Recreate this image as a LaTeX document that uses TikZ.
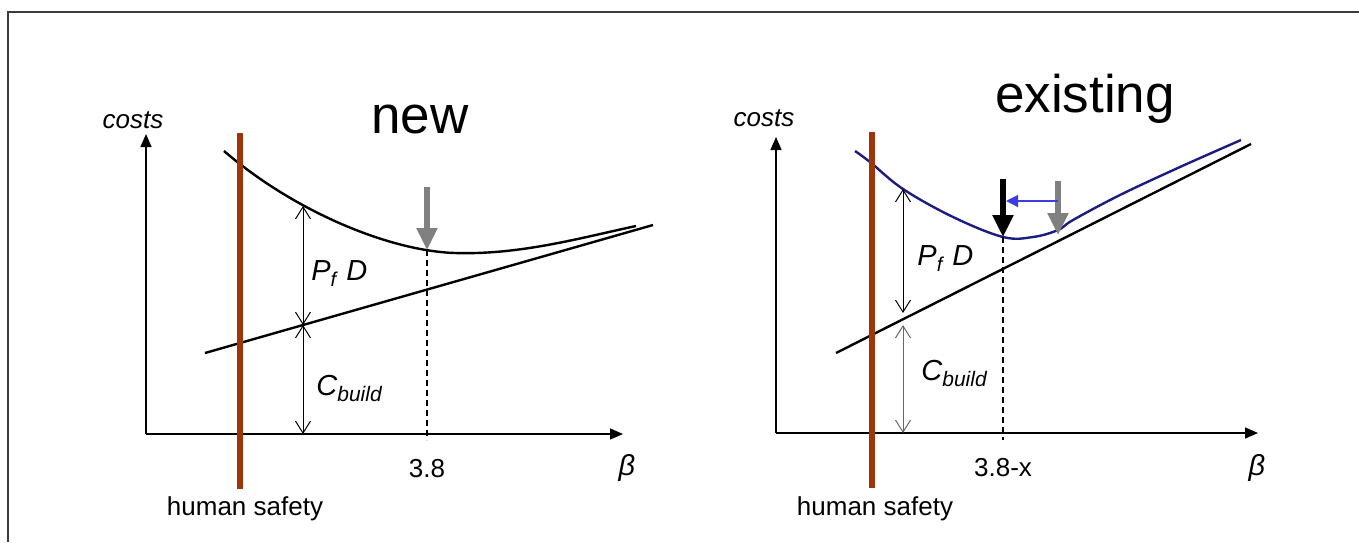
\documentclass[tikz,border=0pt]{standalone}
\usepackage{fontspec}
\setmainfont{Liberation Sans}
\usetikzlibrary{arrows.meta}
\definecolor{safetycol}{RGB}{158,54,8}
\definecolor{navy}{RGB}{28,28,128}
\definecolor{shiftblue}{RGB}{60,60,225}
\definecolor{optgray}{RGB}{128,128,128}
\definecolor{framecol}{RGB}{60,60,60}
\begin{document}
\begin{tikzpicture}[x=0.5pt,y=-0.5pt,
  axis/.style={line width=0.7pt, -{Triangle[length=6.5pt,width=5.5pt]}},
  curve/.style={line width=1.2pt},
  safety/.style={line width=2.6pt, draw=safetycol},
  dimarrow/.style={line width=0.5pt, {Straight Barb[length=6pt,width=7.5pt]}-{Straight Barb[length=6pt,width=7.5pt]}},
  bigarrow/.style={line width=2.6pt, -{Triangle[length=11pt,width=10pt]}},
  dashv/.style={line width=0.6pt, dash pattern=on 3pt off 2pt},
  lbl/.style={inner sep=0pt, font=\fontsize{13pt}{15pt}\selectfont},
  ilbl/.style={inner sep=0pt, font=\fontsize{13pt}{15pt}\selectfont\itshape},
  title/.style={inner sep=0pt, font=\fontsize{26.5pt}{30pt}\selectfont},
  math/.style={inner sep=0pt, font=\fontsize{14.5pt}{17pt}\selectfont\itshape},
]
\useasboundingbox (0,0) rectangle (1359,542);
% frame
\draw[framecol, line width=1pt] (8,542) -- (8,12) -- (1359,12);

% ================= LEFT PANEL =================
\coordinate (LO) at (146,434);
\coordinate (LY) at (146,134);
\coordinate (LX) at (623,434);
\draw[axis] (LO) -- (LY);
\draw[axis] (LO) -- (LX);
\node[ilbl, anchor=base] (lcosts) at (133,128) {costs};
\node[title, anchor=base] (lnew) at (420,133) {new};

% build cost line
\coordinate (LL1) at (205,353);
\coordinate (LL2) at (653,225);
\draw[curve] (LL1) -- (LL2);
% total cost curve
\coordinate (LC0) at (224,151);
\coordinate (LCm) at (455,253);
\coordinate (LC1) at (636,226);
\draw[curve] (LC0) .. controls (295,212) and (390,251) .. (LCm)
                   .. controls (520,255) and (580,238) .. (LC1);
% safety bar
\coordinate (LS1) at (240,133);
\coordinate (LS2) at (240,489);
\draw[safety] (LS1) -- (LS2);
% dimension arrows
\coordinate (LDtop) at (303,206);
\coordinate (LDmid) at (303,325);
\coordinate (LDbot) at (303,434);
\draw[dimarrow] (LDtop) -- (LDmid);
\draw[dimarrow] (LDmid) -- (LDbot);
\node[math, anchor=base west] (lpf) at (311,280) {P\raisebox{-3pt}{\fontsize{10pt}{10pt}\selectfont f}\hspace{5pt}D};
\node[math, anchor=base west] (lcb) at (316,395) {C\raisebox{-3.4pt}{\fontsize{10.5pt}{11pt}\selectfont build}};
% optimum
\coordinate (LM) at (427,250);
\coordinate (LMd) at (427,440);
\coordinate (LMa) at (427,187);
\draw[dashv] (LM) -- (LMd);
\draw[bigarrow, optgray] (LMa) -- (LM);
\node[lbl, anchor=base] (l38) at (427,477) {3.8};
\node[math, anchor=base] (lbeta) at (627,475) {β};
\node[lbl, anchor=base] (lhs) at (245,515) {human safety};

% ================= RIGHT PANEL =================
\coordinate (RO) at (776,433);
\coordinate (RY) at (776,137);
\coordinate (RX) at (1258,433);
\draw[axis] (RO) -- (RY);
\draw[axis] (RO) -- (RX);
\node[ilbl, anchor=base] (rcosts) at (764,126) {costs};
\node[title, anchor=base] (rexist) at (1085,112) {existing};

\coordinate (RL1) at (836,353);
\coordinate (RL2) at (1251,144);
\draw[curve] (RL1) -- (RL2);
\draw[curve, navy] plot[smooth, tension=0.6] coordinates {(855,151) (870,162) (903,189) (953,217) (1003,237) (1033,237) (1058,230) (1073,220) (1120,195) (1180,167) (1241,140)};
\coordinate (RS1) at (872,132);
\coordinate (RS2) at (872,488);
\draw[safety] (RS1) -- (RS2);

\coordinate (RDtop) at (903,189);
\coordinate (RDmid1) at (903,313);
\coordinate (RDmid2) at (903,325);
\coordinate (RDbot) at (903,433);
\draw[dimarrow] (RDtop) -- (RDmid1);
\draw[dimarrow, optgray!80!black] (RDmid2) -- (RDbot);
\node[math, anchor=base west] (rpf) at (917,265) {P\raisebox{-3pt}{\fontsize{10pt}{10pt}\selectfont f}\hspace{5pt}D};
\node[math, anchor=base west] (rcb) at (921,380) {C\raisebox{-3.4pt}{\fontsize{10.5pt}{11pt}\selectfont build}};

\coordinate (RM) at (1003,237);
\coordinate (RMd) at (1003,440);
\coordinate (RMa) at (1003,179);
\coordinate (RG) at (1058,235);
\coordinate (RGa) at (1058,181);
\coordinate (RB1) at (1058,201);
\coordinate (RB2) at (1006,201);
\draw[dashv] (RM) -- (RMd);
\draw[bigarrow, optgray] (RGa) -- (RG);
\draw[bigarrow, black] (RMa) -- (RM);
\draw[shiftblue, line width=0.6pt, -{Triangle[length=6pt,width=6pt]}] (RB1) -- (RB2);
\node[lbl, anchor=base] (r38) at (1003,476) {3.8-x};
\node[math, anchor=base] (rbeta) at (1257,475) {β};
\node[lbl, anchor=base] (rhs) at (875,515) {human safety};
\end{tikzpicture}
\end{document}
